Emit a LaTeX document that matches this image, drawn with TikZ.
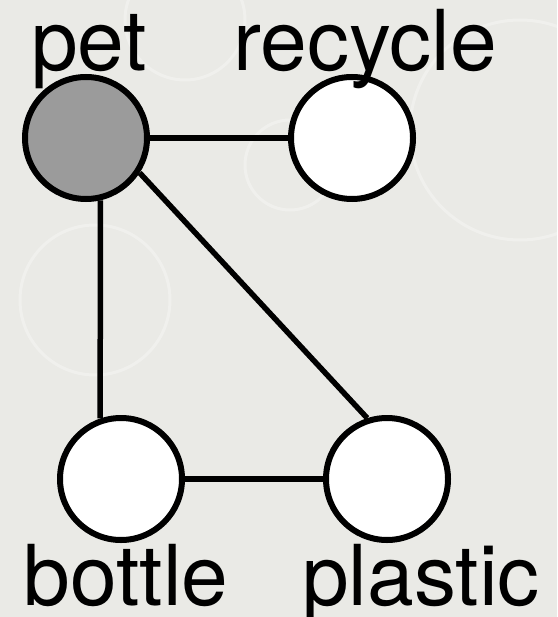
\documentclass[tikz,border=0pt]{standalone}
\usepackage{fontspec}
\setmainfont{TeX Gyre Heros}
\usepackage{tikz}
\usetikzlibrary{positioning,backgrounds}
\definecolor{paper}{RGB}{234,234,230}
\definecolor{seedgray}{RGB}{155,155,155}

\begin{document}
\begin{tikzpicture}[
  x=1pt, y=-1pt,
  word/.style={circle, draw, line width=6pt, fill=white, minimum size=122pt, inner sep=0pt},
  seed/.style={word, fill=seedgray},
  tag/.style={anchor=base, inner sep=0pt, font=\fontsize{84pt}{84pt}\selectfont},
  link/.style={line width=5.5pt},
  bubble/.style={draw=white, line width=3pt, opacity=0.3},
]
\useasboundingbox (0,0) rectangle (557,617);
\begin{scope}[on background layer]
  \fill[paper] (0,0) rectangle (557,617);
  \draw[bubble] (95,300) circle (75);
  \draw[bubble] (290,165) circle (45);
  \draw[bubble] (520,130) circle (110);
  \draw[bubble] (185,20) circle (60);
\end{scope}

\node[seed] (pet) at (86,138) {};
\node[word] (recycle) at (352,138) {};
\node[word] (bottle) at (121,479) {};
\node[word] (plastic) at (387,479) {};

\node[tag] (pettag) at (89,71) {pet};
\node[tag] (recycletag) at (365,71) {recycle};
\node[tag] (bottletag) at (126,605) {bottle};
\node[tag] (plastictag) at (421,605) {plastic};

\begin{scope}[on background layer]
  \draw[link] (pet) -- (recycle);
  \draw[link] (pet.-77) -- (bottle.109);
  \draw[link] (pet.-33) -- (plastic.108);
  \draw[link] (bottle) -- (plastic);
\end{scope}
\end{tikzpicture}
\end{document}
